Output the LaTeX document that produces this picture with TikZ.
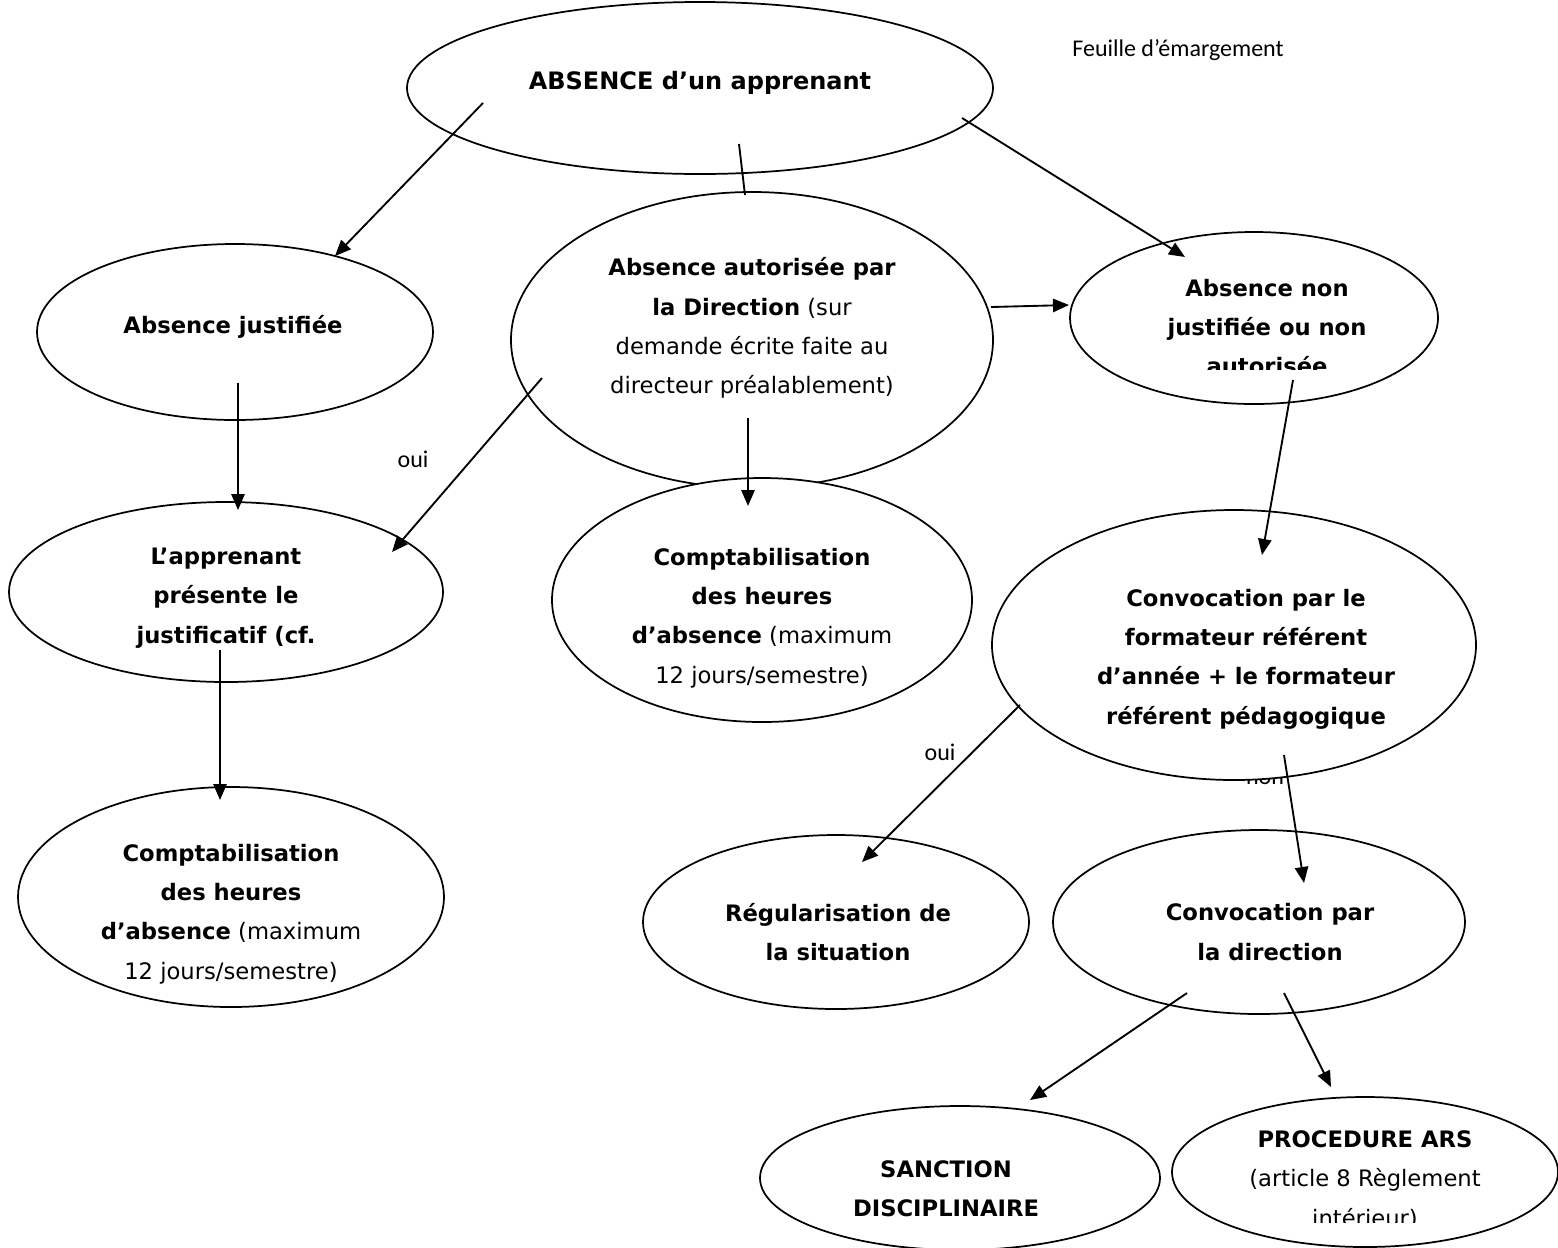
\documentclass[tikz,border=0pt]{standalone}
\usepackage{fontspec}
\setmainfont{DejaVu Sans}
\newfontfamily\calib{Carlito}
\usetikzlibrary{shapes.geometric,arrows.meta}
\begin{document}
\begin{tikzpicture}[x=0.75pt,y=-0.75pt,
  oval/.style={draw, ellipse, fill=white, line width=1.3pt, inner sep=0pt, outer sep=0pt},
  txt/.style={align=center, font=\fontsize{17}{29.5}\selectfont, inner sep=0pt},
  lbl/.style={font=\calib\fontsize{18}{22}\selectfont, inner sep=0pt},
  arr/.style={line width=1.4pt, -{Triangle[length=12pt,width=10pt]}},
  ln/.style={line width=1.4pt}]
\useasboundingbox (0,0) rectangle (1558,1247);

% labels (drawn first: the ovals cover part of "non")
\node[lbl] (feuille) at (1178,50) {Feuille d’émargement};
\node[lbl] (oui1) at (413,459) {oui};
\node[lbl] (oui2) at (940,752) {oui};
\node[lbl, anchor=base] (non) at (1265,784) {non};

% ovals
\node[oval, minimum width=439.5pt, minimum height=129pt] (abs) at (700,88) {};
\node[oval, minimum width=297pt, minimum height=132pt] (jus) at (235,332) {};
\node[oval, minimum width=361.5pt, minimum height=222pt] (aut) at (752,340) {};
\node[oval, minimum width=276pt, minimum height=129pt] (nj) at (1254,318) {};
\node[oval, minimum width=325.5pt, minimum height=135pt] (app) at (226,592) {};
\node[oval, minimum width=315pt, minimum height=183pt] (cmpa) at (762,600) {};
\node[oval, minimum width=363pt, minimum height=202.5pt] (conv) at (1234,645) {};
\node[oval, minimum width=319.5pt, minimum height=165pt] (cmpb) at (231,897) {};
\node[oval, minimum width=289.5pt, minimum height=130.5pt] (reg) at (836,922) {};
\node[oval, minimum width=309pt, minimum height=138pt] (cd) at (1259,922) {};
\node[oval, minimum width=300pt, minimum height=108pt] (san) at (960,1178) {};
\node[oval, minimum width=289.5pt, minimum height=112.5pt] (ars) at (1365,1172) {};

% texts
\node[txt, font=\fontsize{18}{29.5}\selectfont] (tabs) at (700,83) {\textbf{ABSENCE d’un apprenant}};
\node[txt] (tjus) at (233,327) {\textbf{Absence justifiée}};
\node[txt] (taut) at (752,328) {\textbf{Absence autorisée par}\\\textbf{la Direction} (sur\\demande écrite faite au\\directeur préalablement)};
\begin{scope}
\clip (1000,200) rectangle (1450,369);
\node[txt] (tnj) at (1267,327) {\textbf{Absence non}\\\textbf{justifiée ou non}\\\textbf{autorisée}};
\end{scope}
\begin{scope}
\clip (0,500) rectangle (450,651);
\node[txt] (tapp) at (226,598) {\textbf{L’apprenant}\\\textbf{présente le}\\\textbf{justificatif (cf.}};
\end{scope}
\node[txt] (tcmpa) at (762,618) {\textbf{Comptabilisation}\\\textbf{des heures}\\\textbf{d’absence} (maximum\\12 jours/semestre)};
\node[txt] (tconv) at (1246,659) {\textbf{Convocation par le}\\\textbf{formateur référent}\\\textbf{d’année + le formateur}\\\textbf{référent pédagogique}};
\node[txt] (tcmpb) at (231,914) {\textbf{Comptabilisation}\\\textbf{des heures}\\\textbf{d’absence} (maximum\\12 jours/semestre)};
\node[txt] (treg) at (838,932) {\textbf{Régularisation de}\\\textbf{la situation}};
\node[txt] (tcd) at (1270,932) {\textbf{Convocation par}\\\textbf{la direction}};
\node[txt] (tsan) at (946,1189) {\textbf{SANCTION}\\\textbf{DISCIPLINAIRE}};
\begin{scope}
\clip (1160,1100) rectangle (1558,1222);
\node[txt] (tars) at (1365,1180) {\textbf{PROCEDURE ARS}\\(article 8 Règlement\\intérieur)};
\end{scope}

% connector end points
\coordinate (s1) at (483,103);  \coordinate (e1) at (335,256);
\coordinate (s2) at (739,144);  \coordinate (e2) at (745,195);
\coordinate (s3) at (962,118);  \coordinate (e3) at (1185,257);
\coordinate (s4) at (991,307);  \coordinate (e4) at (1069,305);
\coordinate (s5) at (238,383);  \coordinate (e5) at (238,510);
\coordinate (s6) at (542,378);  \coordinate (e6) at (392,552);
\coordinate (s7) at (748,418);  \coordinate (e7) at (748,506);
\coordinate (s8) at (1293,380); \coordinate (e8) at (1262,555);
\coordinate (s9) at (220,650);  \coordinate (e9) at (220,800);
\coordinate (s10) at (1020,705); \coordinate (e10) at (862,862);
\coordinate (s11) at (1284,755); \coordinate (e11) at (1304,883);
\coordinate (s12) at (1187,993); \coordinate (e12) at (1030,1100);
\coordinate (s13) at (1284,993); \coordinate (e13) at (1331,1087);

\draw[arr] (s1) -- (e1);
\draw[ln]  (s2) -- (e2);
\draw[arr] (s3) -- (e3);
\draw[arr] (s4) -- (e4);
\draw[arr] (s5) -- (e5);
\draw[arr] (s6) -- (e6);
\draw[arr] (s7) -- (e7);
\draw[arr] (s8) -- (e8);
\draw[arr] (s9) -- (e9);
\draw[arr] (s10) -- (e10);
\draw[arr] (s11) -- (e11);
\draw[arr] (s12) -- (e12);
\draw[arr] (s13) -- (e13);
\end{tikzpicture}
\end{document}
